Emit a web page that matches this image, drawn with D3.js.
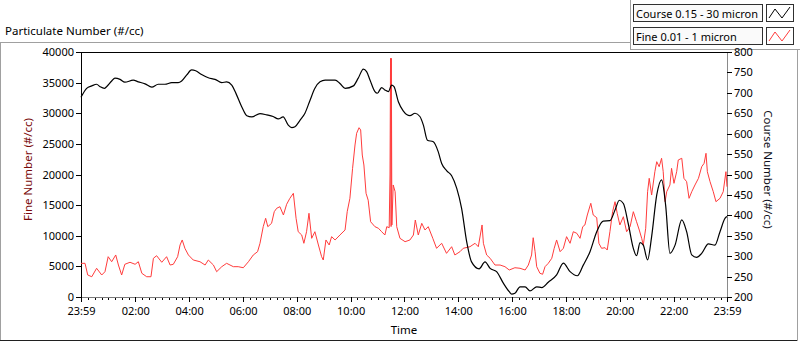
<!DOCTYPE html>
<html>
<head>
<meta charset="utf-8">
<script src="https://cdn.jsdelivr.net/npm/d3@7"></script>
<style>
  body { margin:0; background:#fff; }
  svg { display:block; font-family:"Noto Sans", "Open Sans", sans-serif; }
</style>
</head>
<body>
<div class="chart"></div>
<script>
// data (hours after the 23:59 start)
var courseHours = [0,0.21,0.40,0.58,0.71,0.87,0.95,1.14,1.26,1.45,1.63,1.94,2.13,2.38,2.63,2.87,3.12,3.37,3.61,3.74,3.93,4.11,4.26,4.48,4.73,4.98,5.23,5.41,5.60,5.78,5.97,6.16,6.34,6.65,6.90,7.14,7.33,7.51,7.70,7.83,7.95,8.14,8.32,8.51,8.69,8.88,9.07,9.44,9.62,9.81,10.12,10.30,10.49,10.61,10.74,10.92,11.01,11.17,11.29,11.42,11.54,11.63,11.79,11.97,12.22,12.41,12.59,12.72,12.87,13.09,13.27,13.40,13.59,13.77,13.96,14.14,14.33,14.51,14.79,15.01,15.20,15.44,15.69,15.91,16.00,16.12,16.31,16.50,16.68,16.93,17.12,17.36,17.67,17.92,18.17,18.44,18.66,18.91,19.16,19.40,19.65,19.84,20.00,20.15,20.33,20.52,20.64,20.77,20.89,21.05,21.20,21.39,21.57,21.72,21.88,22.07,22.32,22.50,22.69,22.87,23.06,23.31,23.55,23.74,23.93,24];
var courseValues = [689,711,717,721,715,711,715,729,736,733,726,731,727,722,714,721,721,725,725,729,744,756,754,745,737,733,725,727,719,695,666,644,641,649,646,642,636,641,621,615,617,633,650,682,711,727,731,731,723,711,717,736,758,752,731,703,699,713,707,703,719,715,678,656,644,650,642,621,584,580,556,527,509,497,466,417,335,286,269,286,270,262,234,213,207,209,225,225,215,225,223,236,254,283,262,252,278,311,360,386,387,413,437,429,380,319,301,333,327,291,348,450,487,425,307,327,389,360,303,297,307,330,327,360,393,397];

var fineHours = [0,0.15,0.25,0.40,0.58,0.77,0.89,1.01,1.14,1.29,1.39,1.51,1.63,1.82,2.01,2.13,2.26,2.44,2.60,2.69,2.81,3.00,3.18,3.31,3.43,3.59,3.68,3.76,3.86,3.99,4.17,4.42,4.61,4.73,4.92,5.04,5.23,5.41,5.66,5.84,6.03,6.22,6.40,6.56,6.65,6.77,6.86,6.94,7.08,7.18,7.27,7.39,7.52,7.64,7.76,7.89,7.99,8.07,8.20,8.28,8.38,8.47,8.57,8.69,8.82,8.94,9.00,9.10,9.22,9.31,9.44,9.62,9.81,9.89,9.99,10.09,10.18,10.24,10.33,10.39,10.45,10.51,10.59,10.67,10.76,10.92,11.05,11.17,11.29,11.36,11.45,11.48,11.50,11.52,11.53,11.55,11.60,11.67,11.73,11.85,12.04,12.22,12.35,12.42,12.53,12.66,12.78,12.90,13.07,13.21,13.40,13.58,13.77,13.89,14.08,14.20,14.45,14.64,14.76,14.90,14.95,15.07,15.20,15.38,15.57,15.75,15.91,16.12,16.31,16.50,16.62,16.74,16.80,16.87,16.93,17.05,17.15,17.24,17.36,17.49,17.58,17.67,17.80,17.92,18.04,18.17,18.29,18.42,18.54,18.64,18.72,18.81,18.94,19.03,19.16,19.24,19.34,19.47,19.55,19.65,19.75,19.84,19.92,20.02,20.15,20.27,20.40,20.52,20.64,20.74,20.83,20.89,20.98,21.05,21.11,21.20,21.32,21.39,21.48,21.57,21.63,21.70,21.76,21.88,21.94,22.03,22.13,22.19,22.32,22.40,22.50,22.59,22.69,22.81,22.94,23.06,23.15,23.22,23.27,23.37,23.49,23.59,23.74,23.86,23.96,24];
var fineValues = [5500,5500,3590,3310,4690,3590,4130,6580,5760,6860,5220,3590,5340,5670,5340,5760,3870,3310,3310,6320,6740,5670,6580,5220,5340,6580,8490,9310,7950,6860,6040,5760,5220,6040,5220,4130,4950,5500,4950,4950,4780,5760,6860,7400,8770,11480,12850,11480,12030,13930,14480,14740,13390,15140,16110,16930,12850,10660,10120,8770,10660,13670,9580,10660,8490,6580,6040,9310,8490,9850,9310,10120,10940,13930,16110,21010,24820,26730,27640,27270,23180,21550,16930,15800,12290,11480,11220,10660,10120,11480,11310,19920,38970,11500,38970,11760,18290,17190,11480,9580,9030,9310,10120,12570,10120,12030,10940,11480,9580,7950,8770,7130,8210,6860,7400,7950,8210,8770,8210,11760,8770,6860,6320,5220,5220,4950,4410,4780,4690,4410,5220,6860,9680,7400,4950,3870,3710,4950,5500,6320,7950,9310,7400,7950,9850,8770,10660,10400,9580,11480,11760,13390,15300,13390,12950,8770,7950,8050,7670,10660,13930,15560,13670,11760,13110,10660,11480,13930,12290,10940,9580,8490,11220,17190,19380,16650,20460,22090,21270,22650,20460,15560,17190,18290,21010,18560,20460,22370,22650,19380,18830,16110,17190,18290,19380,21270,21830,23460,20460,18830,17190,15560,16110,17190,20460,18010];

var timeLabels = ["23:59","02:00","04:00","06:00","08:00","10:00","12:00","14:00","16:00","18:00","20:00","22:00","23:59"];
var fineTicks = [0,5000,10000,15000,20000,25000,30000,35000,40000];
var courseTicks = [200,250,300,350,400,450,500,550,600,650,700,750,800];
var seriesNames = ["Course 0.15 - 30 micron","Fine 0.01 - 1 micron"];

// set the dimensions and margins of the graph
var W = 800, H = 342;
var margin = {top:52, right:73, bottom:45, left:81};
var width = W - margin.left - margin.right;
var height = H - margin.top - margin.bottom;

var svg = d3.select(".chart")
    .append("svg")
    .attr("width", W)
    .attr("height", H);

// panel frame
var frame = svg.append("g").attr("shape-rendering", "crispEdges");
frame.append("line").attr("x1",0).attr("x2",631).attr("y1",42.5).attr("y2",42.5).attr("stroke","#a0a0a0");
frame.append("line").attr("x1",0.5).attr("x2",0.5).attr("y1",42).attr("y2",341).attr("stroke","#a0a0a0");
frame.append("line").attr("x1",0).attr("x2",798).attr("y1",340.5).attr("y2",340.5).attr("stroke","#202020");
frame.append("line").attr("x1",797.5).attr("x2",797.5).attr("y1",49).attr("y2",341).attr("stroke","#a0a0a0");
frame.append("line").attr("x1",630.5).attr("x2",630.5).attr("y1",0).attr("y2",50).attr("stroke","#a0a0a0");
frame.append("line").attr("x1",630).attr("x2",800).attr("y1",49.5).attr("y2",49.5).attr("stroke","#a0a0a0");

svg.append("text").attr("x", 5).attr("y", 35).text("Particulate Number (#/cc)")
    .style("font-size", "11.5px").style("fill", "#000");

var g = svg.append("g")
    .attr("transform", "translate(" + margin.left + "," + margin.top + ")");

// scales
function labelHour(s, i) {
  if (i == timeLabels.length - 1) return 24;
  var p = s.split(":");
  var m = +p[0] * 60 + +p[1];
  return ((m - (23 * 60 + 59)) + 1440) % 1440 / 60;
}
var x = d3.scaleLinear().domain([0, 24]).range([0, width]);
var yFine = d3.scaleLinear().domain([0, 40000]).range([height, 0]);
var yCourse = d3.scaleLinear().domain([200, 800]).range([height, 0]);

// plot border
g.append("rect").attr("x", 0).attr("y", 0).attr("width", width).attr("height", height)
    .attr("fill", "#fff").attr("stroke", "none");
g.append("line").attr("x1", 0).attr("x2", width).attr("y1", 0.5).attr("y2", 0.5)
    .attr("stroke", "#000").attr("shape-rendering", "crispEdges");

// axes
var tickHours = timeLabels.map(labelHour);
var minorHours = d3.range(1, 24 * 4).map(function(k) { return k / 4 + 1 / 60; })
    .filter(function(h) { return h < 24; });

var xMinor = g.append("g")
    .attr("transform", "translate(0," + height + ")")
    .call(d3.axisBottom(x).tickValues(minorHours).tickSize(3).tickFormat(""));
var xAxis = g.append("g")
    .attr("transform", "translate(0," + height + ")")
    .call(d3.axisBottom(x).tickValues(tickHours).tickSize(5).tickPadding(5)
        .tickFormat(function(d, i) { return timeLabels[i]; }));

var yLeft = g.append("g")
    .call(d3.axisLeft(yFine).tickValues(fineTicks).tickSize(5).tickPadding(2).tickFormat(d3.format("d")));
var yRight = g.append("g")
    .attr("transform", "translate(" + width + ",0)")
    .call(d3.axisRight(yCourse).tickValues(courseTicks).tickSize(5).tickPadding(2));

[xMinor, xAxis, yLeft, yRight].forEach(function(a) {
  a.attr("font-family", null).attr("font-size", null).attr("shape-rendering", "crispEdges");
  a.selectAll("text").style("font-size", "11px").style("fill", "#000");
  a.selectAll("line").attr("stroke", "#000");
});
xAxis.select(".domain").attr("stroke", "#7a7a7a");
xMinor.select(".domain").remove();
yRight.select(".domain").attr("stroke", "#8a8a8a");
yLeft.select(".domain").attr("stroke", "#000");

// axis titles
g.append("text")
    .attr("transform", "translate(" + (-49) + "," + (height / 2 - 5) + ") rotate(-90)")
    .attr("text-anchor", "middle")
    .text("Fine Number (#/cc)")
    .style("font-size", "11.5px").style("fill", "#7a0a0a");
g.append("text")
    .attr("transform", "translate(" + (width + 37) + "," + (height / 2 - 5) + ") rotate(90)")
    .attr("text-anchor", "middle")
    .text("Course Number (#/cc)")
    .style("font-size", "11.5px").style("fill", "#101020");
g.append("text")
    .attr("x", width / 2).attr("y", height + 37)
    .attr("text-anchor", "middle")
    .text("Time")
    .style("font-size", "11.5px").style("fill", "#000");

// lines
var fineData = fineHours.map(function(h, i) { return {h: h, v: fineValues[i]}; });
var courseData = courseHours.map(function(h, i) { return {h: h, v: courseValues[i]}; });

g.append("path")
    .datum(fineData)
    .attr("fill", "none")
    .attr("stroke", "#ff3c3c")
    .attr("stroke-width", 1)
    .attr("d", d3.line()
        .x(function(d) { return x(d.h); })
        .y(function(d) { return yFine(d.v); }));

g.append("path")
    .datum(courseData)
    .attr("fill", "none")
    .attr("stroke", "#000")
    .attr("stroke-width", 1.2)
    .attr("d", d3.line()
        .curve(d3.curveMonotoneX)
        .x(function(d) { return x(d.h); })
        .y(function(d) { return yCourse(d.v); }));

// legend
var legColors = ["#000", "#ff3c3c"];
var leg = svg.append("g");
seriesNames.forEach(function(name, i) {
  var top = 4 + i * 23;
  leg.append("rect").attr("x", 633.5).attr("y", top + 0.5).attr("width", 129).attr("height", 17)
      .attr("fill", "#fafafa").attr("stroke", "#303030").attr("shape-rendering", "crispEdges");
  leg.append("text").attr("x", 636).attr("y", top + 9).text(name)
      .style("font-size", "11px").style("fill", "#000").attr("dominant-baseline", "central");
  leg.append("rect").attr("x", 766.5).attr("y", top + 0.5).attr("width", 27).attr("height", 17)
      .attr("fill", "#fff").attr("stroke", "#303030").attr("shape-rendering", "crispEdges");
  leg.append("path")
      .attr("d", "M" + 769 + "," + (top + 14) + "L" + 775 + "," + (top + 5) + "L" + 782 + "," + (top + 14) + "L" + 790 + "," + (top + 3))
      .attr("fill", "none").attr("stroke", legColors[i]).attr("stroke-width", 1);
});
</script>
</body>
</html>
